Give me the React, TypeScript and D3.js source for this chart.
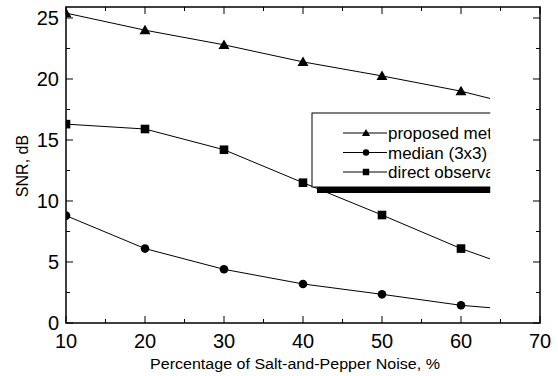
import React, { useEffect, useRef } from 'react';
import * as d3 from 'd3';

// noise percentage on x, SNR in dB on y
const noiseLevels = [10, 20, 30, 40, 50, 60];
const proposed = [25.4, 24.0, 22.8, 21.4, 20.25, 19.0];
const median3x3 = [8.8, 6.1, 4.4, 3.2, 2.35, 1.45];
const directObs = [16.3, 15.9, 14.2, 11.5, 8.85, 6.1];
// the image is cut off at this x, lines run up to it
const cutX = 63.7;
const proposedEnd = 18.4;
const medianEnd = 1.25;
const directEnd = 5.25;

const xTicks = [10, 20, 30, 40, 50, 60, 70];
const yTicks = [0, 5, 10, 15, 20, 25];

const legendLabels = ['proposed method', 'median (3x3)', 'direct observation'];

const W = 558;
const H = 376;

export default function App() {
  const svgRef = useRef<SVGSVGElement>(null);

  useEffect(() => {
    document.body.style.margin = '0';
    if (!svgRef.current) return;
    const svg = d3.select(svgRef.current);
    svg.selectAll('*').remove();

    const left = 66, right = 540, top = 7, bottom = 323;
    const x = d3.scaleLinear().domain([10, 70]).range([left, right]);
    const y = d3.scaleLinear().domain([0, 25.9]).range([bottom, top]);
    const font = 'Arial, "Liberation Sans", sans-serif';

    const defs = svg.append('defs');
    defs.append('clipPath').attr('id', 'plotClip')
      .append('rect').attr('x', left).attr('y', top)
      .attr('width', x(cutX) - left).attr('height', bottom - top);

    const series = [
      { vals: proposed, end: proposedEnd, marker: 'tri' },
      { vals: median3x3, end: medianEnd, marker: 'circ' },
      { vals: directObs, end: directEnd, marker: 'sq' },
    ];

    const drawMarker = (g: any, cx: number, cy: number, type: string, k = 1) => {
      if (type === 'tri') {
        g.append('path')
          .attr('d', d3.symbol(d3.symbolTriangle, 52 * k * k)())
          .attr('transform', `translate(${cx},${cy + k})`)
          .attr('fill', '#000');
      } else if (type === 'circ') {
        g.append('circle').attr('cx', cx).attr('cy', cy).attr('r', 4.3 * k).attr('fill', '#000');
      } else {
        const h = 4.3 * k;
        g.append('rect').attr('x', cx - h).attr('y', cy - h)
          .attr('width', 2 * h).attr('height', 2 * h).attr('fill', '#000');
      }
    };

    const plot = svg.append('g').attr('clip-path', 'url(#plotClip)');
    const line = d3.line<[number, number]>().x(d => x(d[0])).y(d => y(d[1]));

    series.forEach(s => {
      const pts: [number, number][] = noiseLevels.map((n, i) => [n, s.vals[i]]);
      pts.push([cutX, s.end]);
      plot.append('path').attr('d', line(pts)!)
        .attr('fill', 'none').attr('stroke', '#000').attr('stroke-width', 1);
      noiseLevels.forEach((n, i) => drawMarker(plot, x(n), y(s.vals[i]), s.marker));
    });

    // frame
    svg.append('rect').attr('x', left).attr('y', top)
      .attr('width', right - left).attr('height', bottom - top)
      .attr('fill', 'none').attr('stroke', '#000').attr('stroke-width', 1.5);

    const ticks = svg.append('g').attr('stroke', '#000').attr('stroke-width', 1);
    d3.range(10, 70.1, 5).forEach(v => {
      const len = v % 10 === 0 ? 7 : 4;
      ticks.append('line').attr('x1', x(v)).attr('x2', x(v)).attr('y1', bottom).attr('y2', bottom - len);
      ticks.append('line').attr('x1', x(v)).attr('x2', x(v)).attr('y1', top).attr('y2', top + len);
    });
    d3.range(0, 25.1, 2.5).forEach(v => {
      const len = v % 5 === 0 ? 7 : 4;
      ticks.append('line').attr('x1', left).attr('x2', left + len).attr('y1', y(v)).attr('y2', y(v));
      ticks.append('line').attr('x1', right).attr('x2', right - len).attr('y1', y(v)).attr('y2', y(v));
    });

    xTicks.forEach(v => {
      svg.append('text').attr('x', x(v)).attr('y', 348)
        .attr('text-anchor', 'middle').attr('font-family', font).attr('font-size', 20)
        .text(v);
    });
    yTicks.forEach(v => {
      svg.append('text').attr('x', 59).attr('y', y(v) + 7)
        .attr('text-anchor', 'end').attr('font-family', font).attr('font-size', 20)
        .text(v);
    });

    svg.append('text').attr('x', 150).attr('y', 369)
      .attr('font-family', font).attr('font-size', 15.5)
      .attr('textLength', 290).attr('lengthAdjust', 'spacingAndGlyphs')
      .text('Percentage of Salt-and-Pepper Noise, %');
    svg.append('text')
      .attr('transform', 'translate(28,166) rotate(-90)')
      .attr('text-anchor', 'middle').attr('font-family', font).attr('font-size', 16)
      .text('SNR, dB');

    // legend, cut at the same edge as the curves
    defs.append('clipPath').attr('id', 'legClip')
      .append('rect').attr('x', 0).attr('y', 0).attr('width', x(cutX)).attr('height', H);
    const leg = svg.append('g').attr('clip-path', 'url(#legClip)');
    leg.append('rect').attr('x', 317).attr('y', 187).attr('width', 200).attr('height', 6).attr('fill', '#000');
    leg.append('rect').attr('x', 312).attr('y', 113).attr('width', 200).attr('height', 74)
      .attr('fill', '#fff').attr('stroke', '#000').attr('stroke-width', 1);
    legendLabels.forEach((lab, i) => {
      const cy = 133 + i * 19.5;
      leg.append('line').attr('x1', 343).attr('x2', 387).attr('y1', cy).attr('y2', cy)
        .attr('stroke', '#000').attr('stroke-width', 1);
      drawMarker(leg, 366, cy, series[i].marker, 0.75);
      leg.append('text').attr('x', 388).attr('y', cy + 6)
        .attr('font-family', font).attr('font-size', 17).text(lab);
    });
  }, []);

  return <svg ref={svgRef} width={W} height={H} style={{ display: 'block', background: '#fff' }} />;
}
